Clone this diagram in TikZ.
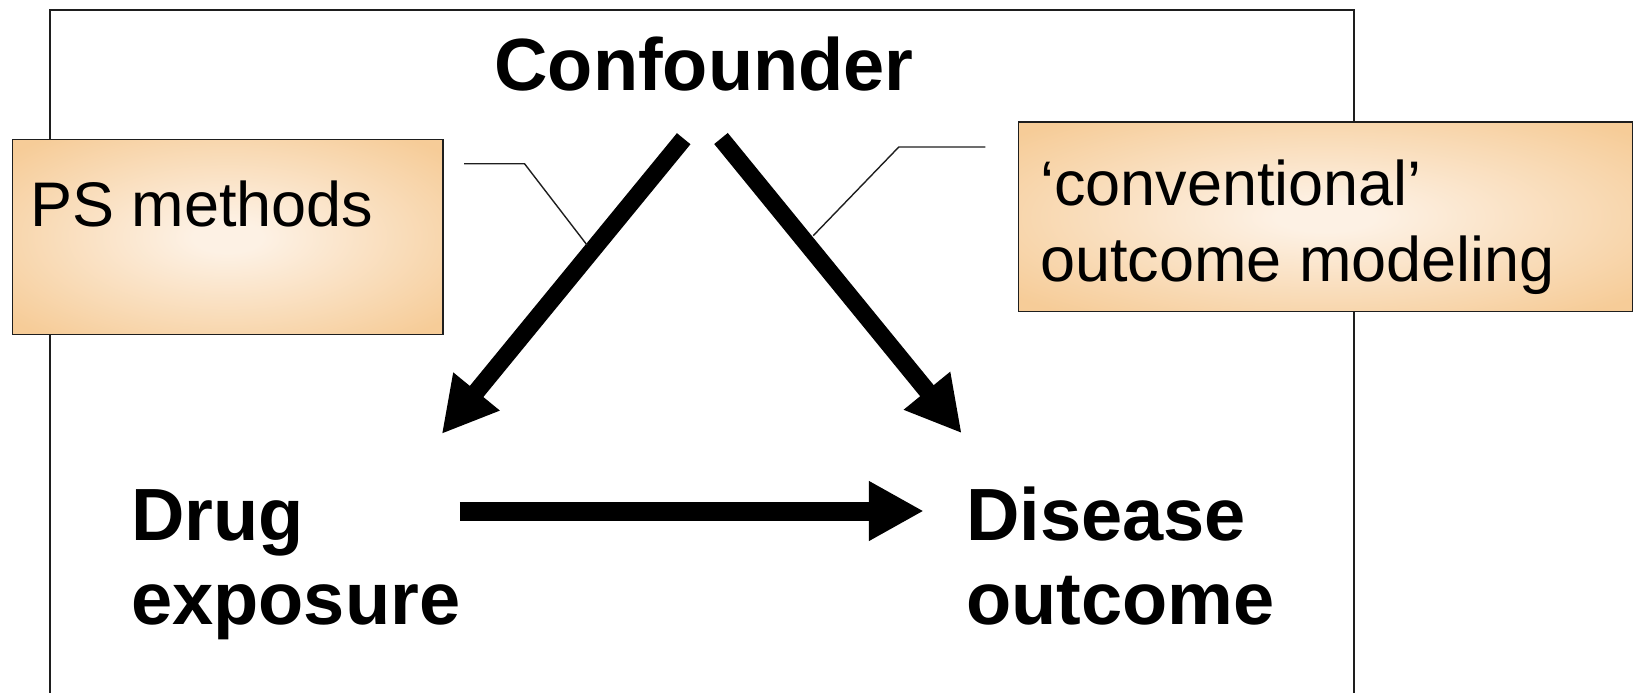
\documentclass[tikz,border=0pt]{standalone}
\usepackage{fontspec}
\setmainfont{Liberation Sans}
\usetikzlibrary{arrows.meta}
\definecolor{boxouter}{HTML}{F6CC98}
\definecolor{boxinner}{HTML}{FDF1E4}
\definecolor{frameline}{HTML}{1E1E1E}
% soft glow: pale centre fading to tan towards the box edges
\pgfdeclareradialshading{boxglow}{\pgfpoint{0bp}{0bp}}{%
  color(0bp)=(boxinner); color(4bp)=(boxinner); color(33bp)=(boxouter); color(75bp)=(boxouter)}
\tikzset{
  calloutbox/.style={draw=frameline, line width=1.6pt, rectangle, inner sep=0pt,
    anchor=north west, shading=boxglow},
  boldlabel/.style={inner sep=0pt, font=\fontsize{74}{84}\selectfont\bfseries, align=left},
  boxlabel/.style={inner sep=0pt, font=\fontsize{63}{76}\selectfont, align=left, text=black},
  causal/.style={line width=17.5pt, -{Triangle[length=55pt,width=56pt]}},
  leader/.style={draw=frameline, line width=1.4pt}
}
\begin{document}
\begin{tikzpicture}[x=1pt, y=-1pt]
  \useasboundingbox (0,0) rectangle (1635,693);

  % outer frame, open at the bottom
  \draw[frameline, line width=2pt] (50,720) -- (50,10.4) -- (1353.5,10.4) -- (1353.5,720);

  % text of the causal triangle (base anchor sits on the last line)
  \node[boldlabel, anchor=base] (conf) at (704,90.7) {Confounder};
  \node[boldlabel, anchor=base west] (drug) at (131,624) {Drug\\exposure};
  \node[boldlabel, anchor=base west] (dis) at (966,624) {Disease\\outcome};

  % arrow end points
  \coordinate (cl) at (683.7,138.7);
  \coordinate (dl) at (441.7,434);
  \coordinate (cr) at (721,138.5);
  \coordinate (dr) at (961.7,433.3);
  \coordinate (hs) at (459.8,511);
  \coordinate (he) at (923.8,511);

  \draw[causal] (cl) -- (dl);
  \draw[causal] (cr) -- (dr);
  \draw[causal, line width=19pt] (hs) -- (he);

  % callout boxes
  \node[calloutbox, minimum width=430.5pt, minimum height=195pt] (psbox) at (11.5,138.7) {};
  \node[boxlabel, anchor=base west] (pstext) at (30,226) {PS methods};

  \node[calloutbox, minimum width=614pt, minimum height=189.7pt] (convbox) at (1017.7,121) {};
  \node[boxlabel, anchor=base west] (convtext) at (1040,281.5) {‘conventional’\\outcome modeling};

  % leader lines from the boxes to the arrows
  \coordinate (psa) at (464,163.7);
  \coordinate (psb) at (524.5,163.7);
  \coordinate (psc) at (587,245);
  \draw[leader] (psa) -- (psb) -- (psc);
  \coordinate (cva) at (985.4,147);
  \coordinate (cvb) at (898.8,147);
  \coordinate (cvc) at (813.3,235.6);
  \draw[leader] (cva) -- (cvb) -- (cvc);
\end{tikzpicture}
\end{document}
